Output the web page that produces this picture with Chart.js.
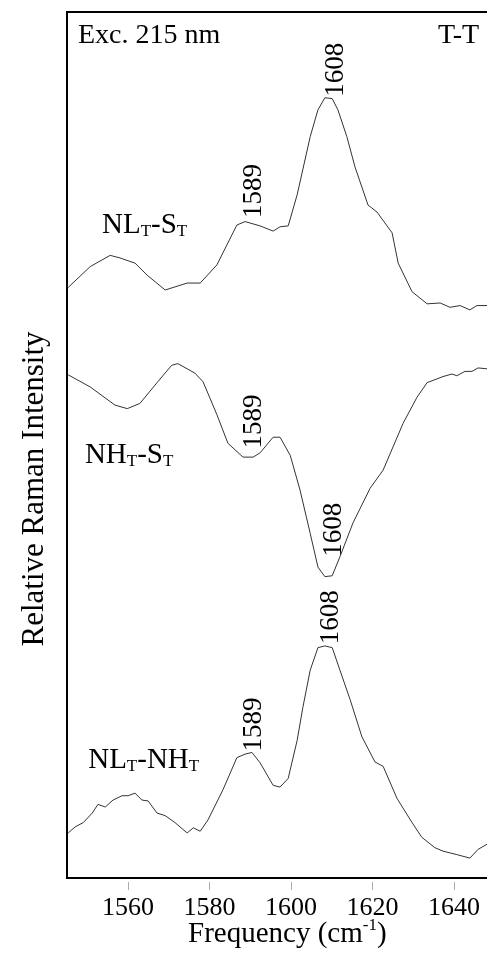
<!DOCTYPE html>
<html>
<head>
<meta charset="utf-8">
<script src="https://cdn.jsdelivr.net/npm/chart.js@4/dist/chart.umd.min.js"></script>
<style>
    html, body { margin: 0; padding: 0; background: #fff; }
    canvas { display: block; }
</style>
</head>
<body>
<canvas id="spectra" width="487" height="967"></canvas>
<script>
const xMin = 1545.0;
const xMax = 1648.1;
const yMin = 0;
const yMax = 100;
const xTicks = [1560, 1580, 1600, 1620, 1640];

// NL_T - S_T difference spectrum (top)
const freqNLS = [1545.3, 1550.7, 1555.6, 1558.0, 1561.7, 1564.7, 1569.1, 1574.5, 1577.7, 1581.8, 1586.7, 1588.7,
    1592.4, 1595.6, 1597.3, 1599.3, 1601.5, 1604.7, 1606.6, 1608.3, 1610.1, 1611.5, 1613.7, 1615.7,
    1618.9, 1621.1, 1624.8, 1626.3, 1629.7, 1633.4, 1636.6, 1639.0, 1641.5, 1643.9, 1645.6, 1648.1];
const intNLS = [68.2, 70.6, 71.9, 71.6, 71.0, 69.6, 67.9, 68.7, 68.7, 70.8, 75.4, 75.8,
    75.3, 74.7, 75.2, 75.3, 78.9, 85.6, 88.7, 90.1, 90.0, 88.7, 85.6, 82.1,
    77.7, 76.9, 74.5, 71.0, 67.7, 66.3, 66.4, 65.9, 66.1, 65.6, 66.1, 66.1];

// NH_T - S_T difference spectrum (middle)
const freqNHS = [1545.3, 1550.7, 1556.8, 1559.8, 1562.9, 1567.1, 1570.7, 1572.2, 1576.4, 1578.4, 1581.8, 1584.5,
    1588.2, 1590.7, 1592.4, 1595.6, 1597.3, 1599.8, 1602.2, 1604.7, 1606.6, 1608.3, 1610.1, 1612.0,
    1615.2, 1619.4, 1622.6, 1627.5, 1630.9, 1633.4, 1637.3, 1639.5, 1640.7, 1642.7, 1644.4, 1645.9, 1648.1];
const intNHS = [58.1, 56.7, 54.6, 54.2, 54.8, 57.2, 59.2, 59.4, 58.3, 57.3, 53.5, 50.2,
    48.6, 48.6, 49.1, 50.9, 50.9, 48.8, 44.8, 39.8, 35.9, 34.8, 34.9, 37.1,
    41.0, 45.0, 47.1, 52.5, 55.5, 57.2, 57.9, 58.2, 58.0, 58.5, 58.5, 58.9, 58.8];

// NL_T - NH_T difference spectrum (bottom)
const freqNLNH = [1545.3, 1547.0, 1549.0, 1551.2, 1552.6, 1554.4, 1556.3, 1558.5, 1560.0, 1561.7, 1563.4, 1564.9,
    1567.1, 1569.1, 1571.5, 1574.5, 1576.0, 1577.7, 1579.6, 1583.3, 1586.7, 1588.7, 1590.4, 1592.4,
    1595.6, 1597.3, 1599.3, 1601.5, 1602.9, 1604.7, 1606.6, 1608.3, 1610.1, 1612.0, 1614.5, 1617.4,
    1620.6, 1622.6, 1626.0, 1629.7, 1632.1, 1635.3, 1637.3, 1640.7, 1643.9, 1645.9, 1648.1];
const intNLNH = [5.2, 5.9, 6.4, 7.5, 8.5, 8.2, 9.0, 9.5, 9.5, 9.8, 9.0, 8.9,
    7.5, 7.2, 6.4, 5.2, 5.8, 5.4, 6.7, 10.2, 13.9, 14.3, 14.5, 13.3,
    10.7, 10.5, 11.5, 15.9, 19.7, 24.0, 26.6, 26.8, 26.6, 24.0, 20.6, 16.3,
    13.4, 12.9, 9.2, 6.4, 4.7, 3.5, 3.1, 2.7, 2.3, 3.3, 3.9];

// peak labels, rotated: x = baseline (freq), y = start of text (intensity)
const peakLabels = [
    { text: '1608', x: 1612.8, y: 90.2 },
    { text: '1589', x: 1592.6, y: 76.2 },
    { text: '1589', x: 1592.6, y: 49.6 },
    { text: '1608', x: 1612.3, y: 37.1 },
    { text: '1589', x: 1592.6, y: 14.6 },
    { text: '1608', x: 1611.5, y: 27.0 }
];

// spectrum names with subscripts
const seriesLabels = [
    { parts: [['NL', false], ['T', true], ['-S', false], ['T', true]], x: 1553.6, y: 74.5 },
    { parts: [['NH', false], ['T', true], ['-S', false], ['T', true]], x: 1549.4, y: 47.9 },
    { parts: [['NL', false], ['T', true], ['-NH', false], ['T', true]], x: 1550.2, y: 12.7 }
];

const serif = '"Liberation Serif", "Times New Roman", serif';

const toPoints = (xs, ys) => xs.map((v, i) => ({ x: v, y: ys[i] }));

function drawRich(ctx, parts, px, py, size, subSize) {
    let cx = px;
    parts.forEach(([txt, sub]) => {
        ctx.font = `${sub ? subSize : size}px ${serif}`;
        ctx.fillText(txt, cx, sub ? py + 3 : py);
        cx += ctx.measureText(txt).width;
    });
}

const textPlugin = {
    id: 'textPlugin',
    afterDraw(chart) {
        const { ctx, chartArea } = chart;
        const xs = chart.scales.x;
        const ys = chart.scales.y;
        ctx.save();

        // top edge of the frame
        ctx.strokeStyle = '#000';
        ctx.lineWidth = 2;
        ctx.beginPath();
        ctx.moveTo(chartArea.left - 1, chartArea.top);
        ctx.lineTo(chartArea.right, chartArea.top);
        ctx.stroke();

        ctx.fillStyle = '#000';
        ctx.textAlign = 'left';
        ctx.textBaseline = 'alphabetic';

        ctx.font = `28px ${serif}`;
        ctx.fillText('Exc. 215 nm', xs.getPixelForValue(1547.7), ys.getPixelForValue(96.4));
        ctx.fillText('T-T', xs.getPixelForValue(1636.1), ys.getPixelForValue(96.4));

        seriesLabels.forEach((lbl) => {
            drawRich(ctx, lbl.parts, xs.getPixelForValue(lbl.x), ys.getPixelForValue(lbl.y), 29, 17);
        });

        ctx.font = `27px ${serif}`;
        peakLabels.forEach((p) => {
            ctx.save();
            ctx.translate(xs.getPixelForValue(p.x), ys.getPixelForValue(p.y));
            ctx.rotate(-Math.PI / 2);
            ctx.fillText(p.text, 0, 0);
            ctx.restore();
        });

        // axis titles
        ctx.save();
        ctx.translate(43, 489);
        ctx.rotate(-Math.PI / 2);
        ctx.textAlign = 'center';
        ctx.font = `31px ${serif}`;
        ctx.fillText('Relative Raman Intensity', 0, 0);
        ctx.restore();

        let tx = 188;
        ctx.font = `29px ${serif}`;
        ctx.fillText('Frequency (cm', tx, 942);
        tx += ctx.measureText('Frequency (cm').width;
        ctx.font = `17px ${serif}`;
        ctx.fillText('-1', tx, 930);
        tx += ctx.measureText('-1').width;
        ctx.font = `29px ${serif}`;
        ctx.fillText(')', tx, 942);

        ctx.restore();
    }
};

const lineStyle = {
    borderColor: '#333',
    borderWidth: 1,
    pointRadius: 0,
    tension: 0,
    fill: false
};

new Chart(document.getElementById('spectra'), {
    type: 'line',
    data: {
        datasets: [
            { label: 'NLT-ST', data: toPoints(freqNLS, intNLS), ...lineStyle },
            { label: 'NHT-ST', data: toPoints(freqNHS, intNHS), ...lineStyle },
            { label: 'NLT-NHT', data: toPoints(freqNLNH, intNLNH), ...lineStyle }
        ]
    },
    options: {
        responsive: false,
        animation: false,
        layout: { padding: { top: 12, right: 0, left: 0, bottom: 0 } },
        plugins: {
            legend: { display: false },
            tooltip: { enabled: false }
        },
        scales: {
            x: {
                type: 'linear',
                min: xMin,
                max: xMax,
                afterBuildTicks: (scale) => {
                    scale.ticks = xTicks.map((v) => ({ value: v }));
                },
                afterFit: (scale) => { scale.height = 89; },
                border: { display: true, color: '#000', width: 2 },
                grid: {
                    drawOnChartArea: false,
                    drawTicks: true,
                    tickLength: 12,
                    tickColor: '#aaa',
                    tickWidth: 1,
                    tickBorderDash: [0, 3, 9, 100]
                },
                ticks: {
                    color: '#000',
                    padding: 3,
                    maxRotation: 0,
                    autoSkip: false,
                    font: { family: serif, size: 26 },
                    callback: (value) => String(value)
                }
            },
            y: {
                min: yMin,
                max: yMax,
                afterFit: (scale) => { scale.width = 67; },
                border: { display: true, color: '#000', width: 2 },
                grid: { display: false },
                ticks: { display: false }
            }
        }
    },
    plugins: [textPlugin]
});
</script>
</body>
</html>
